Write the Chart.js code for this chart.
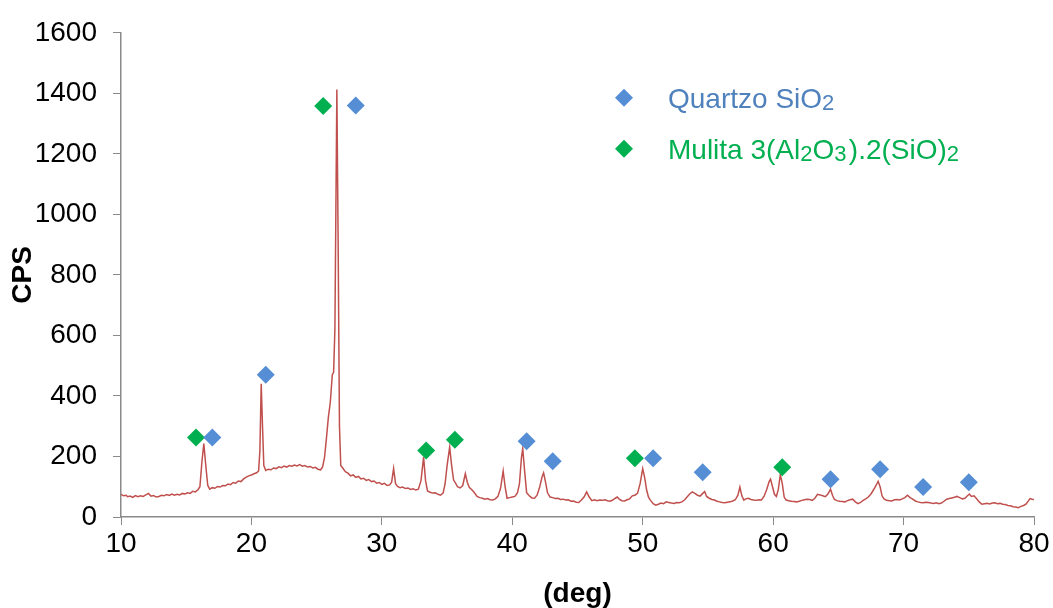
<!DOCTYPE html>
<html>
<head>
<meta charset="utf-8">
<script src="https://cdn.jsdelivr.net/npm/chart.js@4/dist/chart.umd.min.js"></script>
<style>
  html, body { margin: 0; padding: 0; background: #fff; }
  #xrdChart { display: block; }
</style>
</head>
<body>
<canvas id="xrdChart" width="1053" height="608"></canvas>
<script>
// XRD pattern (2theta in deg, counts per second)
const xrdAngle = [
	10.0, 10.2, 10.4, 10.5, 10.7, 10.9, 11.1, 11.3, 11.5, 11.7,
	11.9, 12.1, 12.3, 12.5, 12.7, 12.9, 13.1, 13.3, 13.5, 13.7,
	13.9, 14.1, 14.3, 14.5, 14.7, 14.9, 15.1, 15.3, 15.5, 15.7,
	15.9, 16.05, 16.2, 16.35, 16.5, 16.65, 16.8, 17.0, 17.2, 17.4,
	17.6, 17.8, 18.0, 18.2, 18.4, 18.6, 18.8, 19.0, 19.2, 19.4,
	19.6, 19.8, 20.0, 20.2, 20.4, 20.55, 20.65, 20.75, 20.85, 20.95,
	21.1, 21.3, 21.5, 21.7, 21.9, 22.1, 22.3, 22.5, 22.7, 22.9,
	23.1, 23.3, 23.5, 23.7, 23.9, 24.1, 24.3, 24.5, 24.7, 24.9,
	25.1, 25.3, 25.45, 25.6, 25.75, 25.9, 26.05, 26.2, 26.3, 26.4,
	26.55, 26.65, 26.75, 26.85, 27.0, 27.2, 27.4, 27.6, 27.8, 28.0,
	28.2, 28.4, 28.6, 28.8, 29.0, 29.2, 29.4, 29.6, 29.8, 30.0,
	30.2, 30.4, 30.6, 30.75, 30.9, 31.05, 31.2, 31.4, 31.6, 31.8,
	32.0, 32.2, 32.4, 32.6, 32.8, 33.0, 33.2, 33.35, 33.5, 33.7,
	33.9, 34.1, 34.3, 34.5, 34.7, 34.85, 35.0, 35.2, 35.35, 35.5,
	35.65, 35.8, 36.0, 36.2, 36.4, 36.55, 36.7, 36.9, 37.1, 37.3,
	37.5, 37.7, 37.9, 38.1, 38.3, 38.5, 38.7, 38.9, 39.1, 39.3,
	39.45, 39.6, 39.8, 40.0, 40.2, 40.4, 40.55, 40.7, 40.8, 40.95,
	41.1, 41.3, 41.5, 41.7, 41.9, 42.1, 42.3, 42.4, 42.55, 42.7,
	42.9, 43.1, 43.3, 43.5, 43.7, 43.9, 44.1, 44.3, 44.5, 44.7,
	44.9, 45.1, 45.3, 45.5, 45.7, 45.9, 46.1, 46.3, 46.5, 46.7,
	46.9, 47.1, 47.3, 47.5, 47.7, 47.9, 48.05, 48.2, 48.4, 48.6,
	48.8, 49.0, 49.2, 49.4, 49.6, 49.8, 50.0, 50.15, 50.3, 50.45,
	50.6, 50.8, 51.0, 51.2, 51.4, 51.6, 51.8, 52.0, 52.2, 52.4,
	52.6, 52.8, 53.0, 53.2, 53.4, 53.6, 53.8, 54.0, 54.2, 54.4,
	54.6, 54.75, 54.9, 55.1, 55.3, 55.5, 55.7, 55.9, 56.1, 56.3,
	56.5, 56.7, 56.9, 57.1, 57.3, 57.45, 57.6, 57.75, 57.9, 58.1,
	58.3, 58.5, 58.7, 58.9, 59.1, 59.3, 59.5, 59.7, 59.8, 59.95,
	60.1, 60.25, 60.4, 60.55, 60.7, 60.85, 61.0, 61.2, 61.4, 61.6,
	61.8, 62.0, 62.2, 62.4, 62.6, 62.8, 63.0, 63.2, 63.4, 63.6,
	63.8, 64.0, 64.2, 64.4, 64.55, 64.7, 64.9, 65.1, 65.3, 65.5,
	65.7, 65.9, 66.1, 66.3, 66.5, 66.7, 66.9, 67.1, 67.3, 67.5,
	67.7, 67.9, 68.05, 68.2, 68.35, 68.5, 68.7, 68.9, 69.1, 69.3,
	69.5, 69.7, 69.9, 70.1, 70.3, 70.5, 70.7, 70.9, 71.1, 71.3,
	71.5, 71.7, 71.9, 72.1, 72.3, 72.5, 72.7, 72.9, 73.1, 73.3,
	73.5, 73.7, 73.9, 74.1, 74.3, 74.5, 74.7, 74.9, 75.05, 75.2,
	75.4, 75.6, 75.8, 76.0, 76.2, 76.4, 76.6, 76.8, 77.0, 77.2,
	77.4, 77.6, 77.8, 78.0, 78.2, 78.4, 78.6, 78.8, 79.0, 79.2,
	79.4, 79.6, 79.7, 79.85, 80.0
];
const xrdCps = [
	75, 70, 72, 67, 69, 65, 71, 67, 70, 68,
	73, 78, 69, 71, 66, 68, 72, 70, 74, 71,
	76, 72, 75, 73, 78, 76, 80, 78, 85, 83,
	90, 100, 180, 243, 170, 105, 92, 97, 95, 101,
	99, 104, 103, 109, 107, 114, 112, 119, 117, 126,
	132, 136, 139, 143, 146, 152, 220, 440, 300, 170,
	154, 158, 156, 162, 160, 166, 163, 168, 165, 170,
	168, 172, 169, 173, 168, 170, 165, 167, 162, 164,
	158, 156, 165, 195, 260, 330, 380, 470, 478, 620,
	1413, 900, 300, 170, 162, 150, 145, 136, 139, 131,
	134, 126, 128, 121, 124, 117, 119, 112, 114, 108,
	111, 104, 106, 115, 160, 110, 101, 97, 99, 94,
	96, 91, 93, 89, 92, 120, 198, 120, 86, 82,
	79, 80, 75, 72, 80, 110, 170, 231, 170, 122,
	112, 100, 96, 104, 143, 115, 98, 90, 80, 68,
	64, 62, 59, 61, 57, 56, 60, 68, 95, 152,
	100, 62, 64, 66, 68, 80, 110, 195, 226, 150,
	80, 70, 63, 62, 72, 99, 135, 146, 115, 80,
	66, 64, 61, 62, 58, 59, 56, 57, 52, 53,
	49, 48, 56, 66, 83, 66, 54, 57, 54, 56,
	55, 57, 54, 52, 56, 62, 66, 59, 54, 53,
	57, 60, 70, 72, 78, 110, 160, 130, 89, 65,
	55, 44, 39, 42, 46, 44, 50, 48, 46, 45,
	48, 47, 50, 56, 66, 76, 83, 78, 72, 69,
	78, 84, 68, 62, 58, 56, 52, 50, 48, 47,
	49, 50, 53, 57, 72, 99, 70, 56, 60, 62,
	58, 56, 55, 57, 56, 68, 90, 118, 125, 100,
	75, 68, 92, 140, 110, 65, 56, 54, 52, 51,
	50, 52, 55, 57, 59, 58, 55, 62, 75, 73,
	70, 67, 76, 92, 72, 58, 54, 52, 51, 50,
	54, 57, 59, 50, 44, 48, 55, 60, 66, 76,
	90, 105, 118, 100, 70, 60, 55, 54, 53, 57,
	58, 56, 60, 64, 72, 64, 59, 53, 50, 48,
	47, 49, 48, 46, 45, 47, 44, 46, 52, 59,
	61, 63, 65, 68, 64, 60, 62, 70, 76, 68,
	70, 60, 50, 42, 44, 45, 43, 46, 47, 44,
	45, 42, 41, 38, 37, 34, 33, 31, 35, 38,
	43, 55, 61, 59, 58
];

// Phase markers
const quartzAngle = [17.0, 21.1, 28.0, 41.1, 43.1, 50.8, 54.6, 64.4, 68.2, 71.5, 75.0];
const quartzCps   = [263, 470, 1360, 250, 184, 194, 148, 125, 158, 99, 115];
const mulitaAngle = [15.75, 25.5, 33.4, 35.6, 49.4, 60.7];
const mulitaCps   = [263, 1358, 220, 255, 194, 164];

// Legend text pieces: [text, subscript?]
const quartzLabel = [['Quartzo SiO', false], ['2', true]];
const mulitaLabel = [['Mulita 3(Al', false], ['2', true], ['O', false], ['3', true], ['\u200A).2(SiO)', false], ['2', true]];

const lineRed = '#C0504D';
const quartzBlue = '#558ED5';
const quartzText = '#4F81BD';
const mulitaGreen = '#00B050';
const axisGray = '#898989';
const fontFamily = '"Liberation Sans", Arial, sans-serif';

const toPoints = (xs, ys) => xs.map((x, i) => ({ x: x, y: ys[i] }));

// legend drawn by hand, the built-in one can't do subscripts
const phaseLegend = {
	id: 'phaseLegend',
	afterDraw(chart) {
		const ctx = chart.ctx;
		const area = chart.chartArea;
		const rows = [
			{ label: quartzLabel, marker: quartzBlue, text: quartzText },
			{ label: mulitaLabel, marker: mulitaGreen, text: mulitaGreen }
		];
		ctx.save();
		rows.forEach((row, i) => {
			const cy = area.top + 65 + i * 51;
			const mx = area.left + 503;
			ctx.fillStyle = row.marker;
			ctx.beginPath();
			ctx.moveTo(mx - 9, cy);
			ctx.lineTo(mx, cy - 9);
			ctx.lineTo(mx + 9, cy);
			ctx.lineTo(mx, cy + 9);
			ctx.closePath();
			ctx.fill();
			let tx = area.left + 547;
			ctx.fillStyle = row.text;
			ctx.textBaseline = 'alphabetic';
			row.label.forEach(([txt, sub]) => {
				ctx.font = (sub ? '22px ' : '28px ') + fontFamily;
				ctx.fillText(txt, tx, cy + (sub ? 12 : 10));
				tx += ctx.measureText(txt).width;
			});
		});
		ctx.restore();
	}
};

new Chart(document.getElementById('xrdChart'), {
	type: 'line',
	data: {
		datasets: [
			{
				label: 'Quartzo SiO2',
				data: toPoints(quartzAngle, quartzCps),
				showLine: false,
				pointStyle: 'rectRot',
				pointRadius: 9,
				backgroundColor: quartzBlue,
				borderColor: quartzBlue,
				borderWidth: 0
			},
			{
				label: 'Mulita 3(Al2O3).2(SiO)2',
				data: toPoints(mulitaAngle, mulitaCps),
				showLine: false,
				pointStyle: 'rectRot',
				pointRadius: 9,
				backgroundColor: mulitaGreen,
				borderColor: mulitaGreen,
				borderWidth: 0
			},
			{
				label: 'XRD',
				data: toPoints(xrdAngle, xrdCps),
				borderColor: lineRed,
				borderWidth: 1.5,
				pointRadius: 0,
				tension: 0,
				fill: false
			}
		]
	},
	options: {
		responsive: false,
		animation: false,
		layout: { padding: { top: 30, right: 19, left: 0, bottom: 0 } },
		plugins: {
			legend: { display: false },
			tooltip: { enabled: false }
		},
		scales: {
			x: {
				type: 'linear',
				min: 10,
				max: 80,
				afterFit: s => { s.height = 91; },
				ticks: {
					stepSize: 10,
					color: '#000',
					padding: 2,
					callback: v => String(v),
					font: { family: fontFamily, size: 28 }
				},
				grid: { drawOnChartArea: false, drawTicks: true, tickLength: 8, color: axisGray },
				border: { display: true, color: axisGray, width: 1.5 },
				title: {
					display: true,
					text: '(deg)',
					color: '#000',
					font: { family: fontFamily, size: 28, weight: 'bold', lineHeight: 1 },
					padding: { top: 0, bottom: 0 }
				}
			},
			y: {
				min: 0,
				max: 1600,
				afterFit: s => { s.width = 121; },
				ticks: {
					stepSize: 200,
					color: '#000',
					padding: 16,
					callback: v => String(v),
					font: { family: fontFamily, size: 28 }
				},
				grid: { drawOnChartArea: false, drawTicks: true, tickLength: 8, color: axisGray },
				border: { display: true, color: axisGray, width: 1.5 },
				title: {
					display: true,
					text: 'CPS',
					color: '#000',
					font: { family: fontFamily, size: 28, weight: 'bold' },
					padding: { top: 6, bottom: 0 }
				}
			}
		}
	},
	plugins: [phaseLegend]
});
</script>
</body>
</html>
